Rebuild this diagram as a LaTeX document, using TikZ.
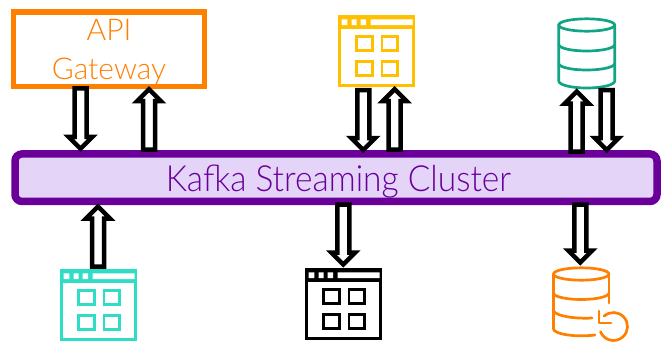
\documentclass[tikz,border=0pt]{standalone}
\usepackage{fontspec}
\usetikzlibrary{calc}
\setmainfont{Lato Light}
\newfontfamily\kafkafont[FakeStretch=0.93]{Lato Light}
\definecolor{gworange}{HTML}{FF8000}
\definecolor{appyellow}{HTML}{FFC000}
\definecolor{appteal}{HTML}{2FDCC6}
\definecolor{dbgreen}{HTML}{12A585}
\definecolor{kpurple}{HTML}{6A0099}
\definecolor{kfill}{HTML}{E3D4F8}
\tikzset{
  blockarrow/.style={draw=black,fill=white,line width=4.5pt,miter limit=10,
    to path={let \p1=(\tikztostart),\p2=(\tikztotarget),\n1={\y2>\y1?12:-12} in
      ({\x1-6pt},\y1) -- ({\x1-6pt},{\y2-\n1*1pt}) -- ({\x1-12pt},{\y2-\n1*1pt}) -- (\x1,\y2)
      -- ({\x1+12pt},{\y2-\n1*1pt}) -- ({\x1+6pt},{\y2-\n1*1pt}) -- ({\x1+6pt},\y1) -- cycle}},
  frame/.style={draw=#1,line width=2.7pt,fill=white,minimum width=74.3pt,minimum height=69.3pt,inner sep=0pt,outer sep=0pt,anchor=north west},
  gridcell/.style={draw=#1,line width=2.7pt},
  cyl/.style={draw=#1,line width=2.7pt,line cap=round,line join=round}
}
\newcommand{\appicon}[4]{% name, colour, x, y (outer top-left)
  \node[frame=#2] (#1) at (#3+1.35,#4+1.35) {};
  \begin{scope}[shift={(#3,#4)}]
    \fill[#2] (0,0) rectangle (77,14.3);
    \fill[white] (3.7,4.3) rectangle (9.3,10) (13.7,4.3) rectangle (18.7,10)
                 (22.7,4.3) rectangle (28,10) (32.7,4.3) rectangle (74.7,10);
    \draw[gridcell=#2] (18.3,21.7) rectangle (34.7,35.3) (44,21.7) rectangle (59.7,35.3)
                       (18.3,46.7) rectangle (34.7,60.3) (44,46.7) rectangle (59.7,60.3);
  \end{scope}}
\begin{document}
\begin{tikzpicture}[x=1pt,y=-1pt]
\useasboundingbox (0,0) rectangle (661,341);
\fill[white] (0,0) rectangle (661,341);
% boxes
\node[draw=gworange,line width=5.5pt,fill=white,minimum width=191pt,minimum height=74.5pt,inner sep=0pt,
  text=gworange,font=\fontsize{30}{38.3}\selectfont,align=center] (gw) at (109,49.2) {\rule{0pt}{27pt}API\\Gateway};
\node[draw=kpurple,fill=kfill,line width=7.5pt,rounded corners=7pt,minimum width=642pt,minimum height=47.5pt,inner sep=0pt,
  text=kpurple,font=\fontsize{36}{38}\kafkafont] (kafka) at (336,177.7) {\hspace*{5pt}\raisebox{-14pt}[0pt][0pt]{Kafka Streaming Cluster}};
% application icons
\appicon{yellowapp}{appyellow}{338}{15}
\appicon{tealapp}{appteal}{60}{269}
\appicon{blackapp}{black}{305}{268}
% green database
\coordinate (greendb) at (586.7,25);
\draw[cyl=dbgreen] (greendb) ellipse [x radius=28,y radius=6.2];
\draw[cyl=dbgreen] (558.7,25) -- (558.7,81) arc [start angle=180,end angle=0,x radius=28,y radius=7] -- (614.7,25);
\draw[cyl=dbgreen] (558.7,44.5) arc [start angle=180,end angle=0,x radius=28,y radius=6.5];
\draw[cyl=dbgreen] (558.7,63.5) arc [start angle=180,end angle=0,x radius=28,y radius=6.5];
% orange database with restore mark
\coordinate (orangedb) at (581.2,274);
\draw[cyl=gworange] (orangedb) ellipse [x radius=27.7,y radius=6.2];
\draw[cyl=gworange] (608.9,274) -- (608.9,303);
\draw[cyl=gworange] (553.5,293) arc [start angle=180,end angle=0,x radius=27.7,y radius=6.5];
\draw[cyl=gworange] (553.5,274) -- (553.5,329) .. controls (554,334) and (575,337.5) .. (595,335);
\draw[cyl=gworange] (553.5,311) .. controls (556,316) and (575,319) .. (592,318);
\draw[cyl=gworange] (599,311) -- (599,323) -- (611,323);
\draw[cyl=gworange] (604.1,316.1) arc [start angle=-132,end angle=158,radius=14];
% connectors
\coordinate (g1) at (80.5,88.25);   \coordinate (k1) at (80.5,148.8);
\coordinate (k2) at (149,149.5);    \coordinate (g2) at (149,89.2);
\coordinate (y1) at (363.3,90);     \coordinate (k3) at (363.3,150);
\coordinate (k4) at (394.7,149.5);  \coordinate (y2) at (394.7,89.2);
\coordinate (k5) at (576.7,151.7);  \coordinate (d1) at (576.7,91.5);
\coordinate (d2) at (606.7,90);     \coordinate (k6) at (606.7,150);
\coordinate (t1) at (98,266.7);     \coordinate (k7) at (98,206.5);
\coordinate (k8) at (343.3,204.5);  \coordinate (b1) at (343.3,264.5);
\coordinate (k9) at (580.3,204.5);  \coordinate (o1) at (580.3,262.5);
\draw[blockarrow] (g1) to (k1);
\draw[blockarrow] (k2) to (g2);
\draw[blockarrow] (y1) to (k3);
\draw[blockarrow] (k4) to (y2);
\draw[blockarrow] (k5) to (d1);
\draw[blockarrow] (d2) to (k6);
\draw[blockarrow] (t1) to (k7);
\draw[blockarrow] (k8) to (b1);
\draw[blockarrow] (k9) to (o1);
\end{tikzpicture}
\end{document}
